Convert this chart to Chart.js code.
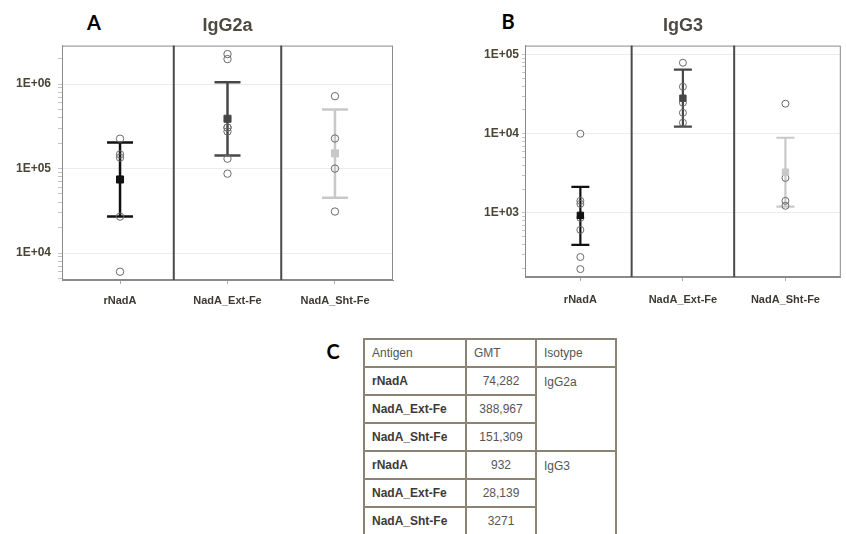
<!DOCTYPE html>
<html>
<head>
<meta charset="utf-8">
<script src="https://cdn.jsdelivr.net/npm/chart.js@4.4.1/dist/chart.umd.min.js"></script>
<style>
  body { margin: 0; width: 846px; height: 534px; overflow: hidden; background: #fff; position: relative;
         font-family: "Liberation Sans", Arial, sans-serif; }
  .wrap { position: absolute; top: 0; height: 312px; overflow: hidden; }
  #wrapA { left: 0; width: 420px; }
  #wrapB { left: 420px; width: 426px; }
  .letter { position: absolute; font-family: Lato, sans-serif; font-weight: bold; font-size: 20px;
            line-height: 1; color: #000; transform: translate(-50%, -50%); }
  #gmtTable { position: absolute; left: 363px; top: 338px; border-collapse: collapse; font-size: 12px; color: #555; }
  #gmtTable td { border: 2px solid #8b8373; height: 26px; padding: 0 7px; }
  #gmtTable td.ant { width: 86px; font-weight: bold; color: #3c3a36; }
  #gmtTable td.val { width: 54px; text-align: center; }
  #gmtTable td.iso { width: 64px; vertical-align: top; padding-top: 7px; }
  #gmtTable tr.head td { font-weight: normal; color: #555; }
  #gmtTable tr.head td.val { text-align: left; }
</style>
</head>
<body>
<div class="letter" style="left:94px; top:22px;">A</div>
<div class="letter" style="left:508px; top:21px;">B</div>
<div class="letter" style="left:333px; top:351px;">C</div>
<div class="wrap" id="wrapA"><canvas id="chartA" width="420" height="312"></canvas></div>
<div class="wrap" id="wrapB"><canvas id="chartB" width="432" height="312"></canvas></div>
<table id="gmtTable"></table>

<script>
// categories on the x axis
const categories = ['rNadA', 'NadA_Ext-Fe', 'NadA_Sht-Fe'];

// IgG2a - individual titres, GMT and error bar limits
const igg2aPoints = [
  [226000, 147000, 135000, 27000, 6000],
  [2270000, 1980000, 306000, 306000, 275000, 131000, 87000],
  [720000, 227000, 100000, 31000]
];
const igg2aGmt = [74282, 388967, 151309];
const igg2aLow = [27000, 143000, 45000];
const igg2aHigh = [203000, 1056000, 500000];

// IgG3
const igg3Points = [
  [10000, 1420, 1300, 865, 610, 277, 195],
  [79000, 39300, 24700, 18400, 13800],
  [24000, 2770, 1420, 1230]
];
const igg3Gmt = [932, 28139, 3271];
const igg3Low = [394, 12300, 1200];
const igg3High = [2130, 64600, 8900];

// table C
const tableAntigens = ['rNadA', 'NadA_Ext-Fe', 'NadA_Sht-Fe', 'rNadA', 'NadA_Ext-Fe', 'NadA_Sht-Fe'];
const tableGmt = ['74,282', '388,967', '151,309', '932', '28,139', '3271'];
const tableIsotypes = ['IgG2a', 'IgG3'];

const barColors = ['#111111', '#474747', '#c8c8c8'];
const labelColor = '#4a4535';

function isMajor(v) {
  const e = Math.log10(v);
  return Math.abs(e - Math.round(e)) < 1e-9;
}

// frame round the plot + dark dividers between the categories
const framePlugin = {
  id: 'frame',
  beforeDatasetsDraw(chart) {
    const { ctx, chartArea: a, scales } = chart;
    ctx.save();
    ctx.strokeStyle = '#8a8a8a';
    ctx.lineWidth = 1;
    ctx.strokeRect(a.left + 0.5, a.top + 0.5, a.right - a.left - 1, a.bottom - a.top - 1);
    ctx.strokeStyle = '#4a4a4a';
    ctx.lineWidth = 2;
    [0.5, 1.5].forEach(v => {
      const x = scales.x.getPixelForValue(v);
      ctx.beginPath();
      ctx.moveTo(x, a.top);
      ctx.lineTo(x, a.bottom);
      ctx.stroke();
    });
    ctx.restore();
  }
};

function makeChart(id, title, points, gmt, low, high, yMin, yMax, opt) {
  const datasets = [];
  datasets.push({
    label: 'GMT',
    data: gmt.map((g, i) => ({ x: i, y: g })),
    pointStyle: 'rect',
    pointRadius: opt.squareR,
    backgroundColor: barColors,
    borderColor: barColors,
    borderWidth: 1
  });
  const pts = [];
  points.forEach((arr, i) => arr.forEach(v => pts.push({ x: i, y: v })));
  datasets.push({
    label: 'mice',
    data: pts,
    pointStyle: 'circle',
    pointRadius: opt.circleR,
    backgroundColor: 'rgba(0,0,0,0)',
    borderColor: '#6a6a6a',
    borderWidth: 1
  });
  categories.forEach((c, i) => {
    datasets.push({
      label: c + ' CI',
      data: [{ x: i, y: low[i] }, { x: i, y: high[i] }],
      showLine: true,
      borderColor: barColors[i],
      borderWidth: opt.barW,
      pointStyle: 'line',
      pointRadius: opt.capR,
      pointBorderWidth: opt.barW,
      pointBorderColor: barColors[i]
    });
  });

  return new Chart(document.getElementById(id), {
    type: 'scatter',
    data: { datasets },
    plugins: [framePlugin],
    options: {
      responsive: false,
      animation: false,
      layout: { padding: { left: 0, right: opt.padRight, top: 0, bottom: 0 } },
      plugins: {
        legend: { display: false },
        tooltip: { enabled: false },
        title: {
          display: true,
          text: title,
          fullSize: false,
          color: '#4d4a42',
          font: { family: '"Liberation Sans", Arial, sans-serif', size: 18, weight: 'bold' },
          padding: { top: 15, bottom: 9 }
        }
      },
      scales: {
        x: {
          type: 'linear',
          min: -0.54,
          max: 2.54,
          afterBuildTicks: s => { s.ticks = categories.map((c, i) => ({ value: i })); },
          afterFit: s => { s.height = opt.xHeight; },
          grid: { drawOnChartArea: false, tickLength: 4, tickColor: '#aaaaaa' },
          border: { color: '#8a8a8a' },
          ticks: {
            padding: opt.xPad,
            maxRotation: 0,
            color: '#3d3a34',
            font: { family: '"Liberation Sans", Arial, sans-serif', size: 11, weight: 'bold' },
            callback: v => categories[v]
          }
        },
        y: {
          type: 'logarithmic',
          min: yMin,
          max: yMax,
          afterBuildTicks: s => {
            const t = [];
            for (let e = Math.floor(Math.log10(yMin)); e <= Math.ceil(Math.log10(yMax)); e++) {
              for (let m = 1; m <= 9; m++) {
                const v = m * Math.pow(10, e);
                if (v >= yMin && v <= yMax) t.push({ value: v });
              }
            }
            s.ticks = t;
          },
          afterFit: s => { s.width = opt.yWidth; },
          grid: {
            color: c => (c.tick && isMajor(c.tick.value)) ? '#ececec' : 'rgba(0,0,0,0)',
            tickColor: '#c4c4c4',
            tickLength: opt.yTick
          },
          border: { color: '#8a8a8a' },
          ticks: {
            autoSkip: false,
            padding: opt.yPad,
            color: labelColor,
            font: { family: '"Liberation Sans", Arial, sans-serif', size: 12, weight: 'bold' },
            callback: v => isMajor(v) ? '1E+' + String(Math.round(Math.log10(v))).padStart(2, '0') : ''
          }
        }
      }
    }
  });
}

makeChart('chartA', 'IgG2a', igg2aPoints, igg2aGmt, igg2aLow, igg2aHigh, 4790, 2860000,
  { padRight: 27, yWidth: 62, xHeight: 32, xPad: 10, yTick: 4, yPad: 7, capR: 13, barW: 2.5, squareR: 5, circleR: 3.7 });
makeChart('chartB', 'IgG3', igg3Points, igg3Gmt, igg3Low, igg3High, 155, 130000,
  { padRight: 0, yWidth: 105, xHeight: 35, xPad: 12, yTick: 3, yPad: 3, capR: 9, barW: 2.2, squareR: 4.5, circleR: 3.5 });

// table C
const table = document.getElementById('gmtTable');
let html = '<tr class="head"><td class="ant" style="font-weight:normal;color:#555">Antigen</td><td class="val">GMT</td><td class="iso" style="vertical-align:middle;padding-top:0">Isotype</td></tr>';
tableAntigens.forEach((a, i) => {
  html += '<tr><td class="ant">' + a + '</td><td class="val">' + tableGmt[i] + '</td>';
  if (i % 3 === 0) html += '<td class="iso" rowspan="3">' + tableIsotypes[i / 3] + '</td>';
  html += '</tr>';
});
table.innerHTML = html;
</script>
</body>
</html>
